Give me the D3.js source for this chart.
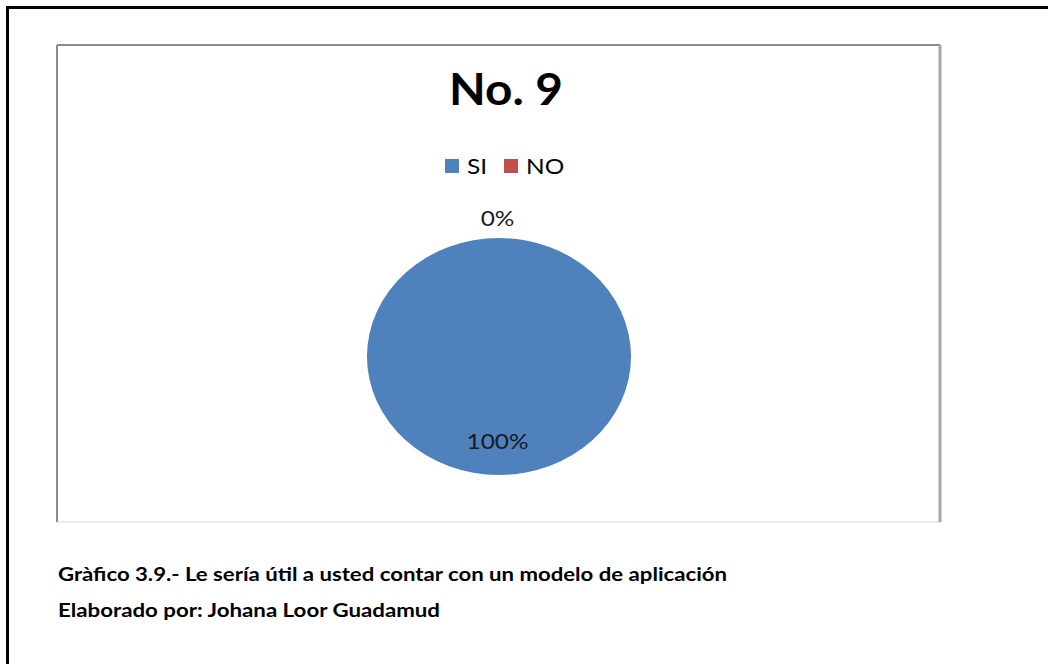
<!DOCTYPE html>
<html>
<head>
<meta charset="utf-8">
<script src="https://cdn.jsdelivr.net/npm/d3@7"></script>
<style>
  html, body { margin: 0; padding: 0; background: #fff; }
  svg { display: block; }
</style>
</head>
<body>
<svg id="chart" width="1048" height="664"></svg>
<script>
// Survey answers for question 9
const categories = ["SI", "NO"];
const values = [100, 0];
const percentLabels = ["100%", "0%"];
const colors = ["#4F81BD", "#C0504D"];

const title = "No. 9";
const captionLines = [
  "Gràfico 3.9.- Le sería útil a usted contar con un modelo de aplicación",
  "Elaborado por: Johana Loor Guadamud"
];

const svg = d3.select("#chart");
const W = 1048, H = 664;
const font = "Lato, 'Open Sans', 'Noto Sans', sans-serif";
const stretch = 1.11; // the whole figure is drawn a little wider than tall

// page frame (top and left rules)
svg.append("rect").attr("x", 6).attr("y", 6).attr("width", W).attr("height", 3).attr("fill", "#000");
svg.append("rect").attr("x", 6).attr("y", 6).attr("width", 3).attr("height", H).attr("fill", "#000");

// chart area box
const box = { x: 57, y: 45, w: 883, h: 477 };
svg.append("rect")
  .attr("x", box.x).attr("y", box.y).attr("width", box.w).attr("height", box.h)
  .attr("fill", "#fff").attr("stroke", "#dcdcdc").attr("stroke-width", 1);
svg.append("line").attr("x1", box.x).attr("x2", box.x + box.w).attr("y1", box.y).attr("y2", box.y)
  .attr("stroke", "#8c8c8c").attr("stroke-width", 2);
svg.append("line").attr("x1", box.x).attr("x2", box.x).attr("y1", box.y).attr("y2", box.y + box.h)
  .attr("stroke", "#8c8c8c").attr("stroke-width", 2);
svg.append("line").attr("x1", box.x + box.w).attr("x2", box.x + box.w).attr("y1", box.y).attr("y2", box.y + box.h)
  .attr("stroke", "#a6a6a6").attr("stroke-width", 3);

// helper: text placed at (x, y) and widened horizontally
function wideText(parent, x, y, str, opts) {
  const t = parent.append("text")
    .attr("transform", `translate(${x},${y}) scale(${stretch},1)`)
    .attr("font-family", font)
    .attr("font-size", opts.size)
    .attr("font-weight", opts.weight || "normal")
    .attr("text-anchor", opts.anchor || "start")
    .attr("fill", opts.fill || "#000")
    .text(str);
  return t;
}

// title
wideText(svg, 506, 105, title, { size: 43, weight: "bold", anchor: "middle" });

// legend
const legendX = [445, 504];
categories.forEach((c, i) => {
  svg.append("rect")
    .attr("x", legendX[i]).attr("y", 159).attr("width", 14).attr("height", 14)
    .attr("fill", colors[i]);
  wideText(svg, legendX[i] + 22, 174, c, { size: 22 });
});

// pie (slightly elliptical)
const cx = 499, cy = 356.5, rx = 132, ry = 118.5;
const sx = rx / ry;
const pie = d3.pie().sort(null).value(d => d.v);
const arcs = pie(values.map((v, i) => ({ v, i })));
const arc = d3.arc().innerRadius(0).outerRadius(ry);

const pg = svg.append("g").attr("transform", `translate(${cx},${cy})`);
pg.selectAll("path.slice")
  .data(arcs)
  .join("path")
  .attr("class", "slice")
  .attr("transform", `scale(${sx},1)`)
  .attr("d", arc)
  .attr("fill", d => colors[d.data.i]);

// data labels: inside for a non-empty slice, just outside for an empty one
const inner = d3.arc().innerRadius(ry * 0.713).outerRadius(ry * 0.713);
const outer = d3.arc().innerRadius(ry * 1.17).outerRadius(ry * 1.17);
pg.selectAll("text.lbl")
  .data(arcs)
  .join("text")
  .attr("class", "lbl")
  .attr("transform", d => {
    const p = (d.endAngle - d.startAngle > 0 ? inner : outer).centroid(d);
    return `translate(${p[0] * sx - 1.5},${p[1]}) scale(${stretch},1)`;
  })
  .attr("text-anchor", "middle")
  .attr("dy", "0.36em")
  .attr("font-family", font).attr("font-size", 22)
  .attr("fill", "#1a1a1a")
  .text(d => percentLabels[d.data.i]);

// captions below the chart
const capY = [581, 617];
const capW = [669, 382];
captionLines.forEach((t, i) => {
  svg.append("text")
    .attr("x", 58).attr("y", capY[i])
    .attr("font-family", font).attr("font-weight", "bold")
    .attr("font-size", 19.5)
    .attr("textLength", capW[i]).attr("lengthAdjust", "spacingAndGlyphs")
    .attr("fill", "#000")
    .text(t);
});
</script>
</body>
</html>
